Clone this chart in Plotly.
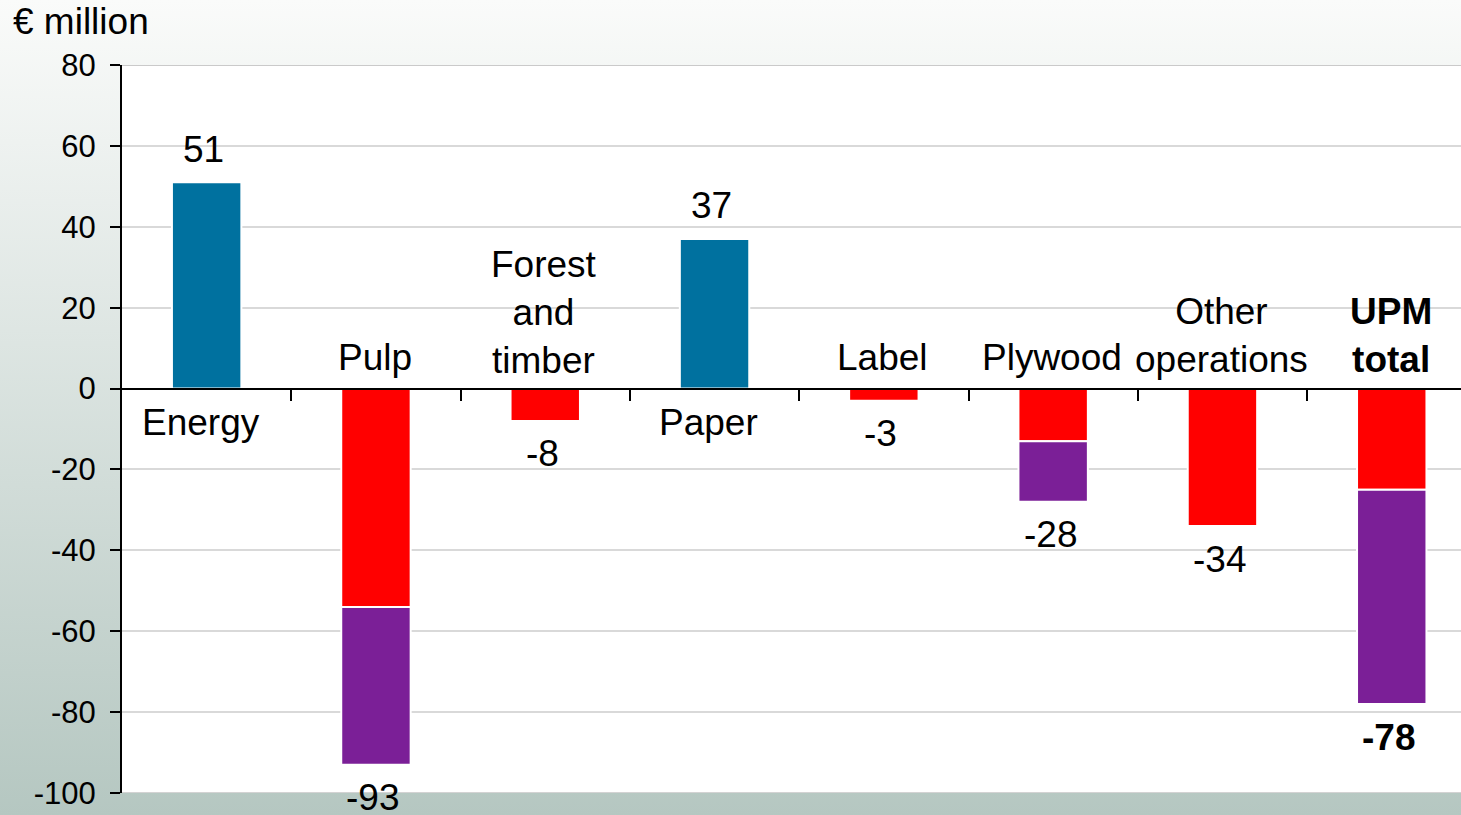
import base64
import plotly.graph_objects as go

# Change in operating result by business area, EUR million
categories = ["Energy", "Pulp", "Forest and timber", "Paper", "Label",
              "Plywood", "Other operations", "UPM total"]
category_labels = ["Energy", "Pulp", "Forest<br>and<br>timber", "Paper", "Label",
                   "Plywood", "Other<br>operations", "<b>UPM<br>total</b>"]
increase = [51, None, None, 37, None, None, None, None]
decrease_first = [None, -54, -8, None, -3, -13, -34, -25]
decrease_second = [None, -39, None, None, None, -15, None, -53]
y_ticks = [-100, -80, -60, -40, -20, 0, 20, 40, 60, 80]
y_tick_labels = ["-100", "-80", "-60", "-40", "-20", "0", "20", "40", "60", "80"]

totals = [sum(v for v in seg if v is not None)
          for seg in zip(increase, decrease_first, decrease_second)]

W, H = 1461, 815
M_L, M_R, M_T, M_B = 122, 0, 65, 22
PLOT_W = W - M_L - M_R
PLOT_H = H - M_T - M_B
CAT_PX = 169.3
Y_MIN, Y_MAX = -100, 80

FONT = "Liberation Sans, Arial, sans-serif"
BLUE, RED, PURPLE = "#00719f", "#ff0000", "#7b1f97"

x = list(range(len(categories)))
bar_style = dict(width=0.41, marker_line_color="white", marker_line_width=2,
                 showlegend=False, hoverinfo="skip")

fig = go.Figure()
fig.add_trace(go.Bar(x=x, y=increase, marker_color=BLUE, **bar_style))
fig.add_trace(go.Bar(x=x, y=decrease_first, marker_color=RED, **bar_style))
fig.add_trace(go.Bar(x=x, y=decrease_second, marker_color=PURPLE, **bar_style))

annotations = []
for i, (lab, tot) in enumerate(zip(category_labels, totals)):
    bold = lab.startswith("<b>")
    val_txt = f"<b>{tot}</b>" if bold else f"{tot}"
    # value label just beyond the bar end
    annotations.append(dict(
        x=i, y=tot, xref="x", yref="y", text=val_txt, showarrow=False,
        yanchor="middle", yshift=33 if tot > 0 else -33, xshift=-3,
        font=dict(family=FONT, size=37, color="black")))
    # category name on the opposite side of the zero line
    n_lines = lab.count("<br>") + 1
    if tot > 0:
        shift = -34.4
    else:
        shift = 30.6 + (n_lines - 1) * 22.5
    annotations.append(dict(
        x=i, y=0, xref="x", yref="y", text=lab, showarrow=False,
        yanchor="middle", yshift=shift, xshift=-1 if tot < 0 else -6,
        font=dict(family=FONT, size=37, color="black")))

annotations.append(dict(
    x=(11 - M_L) / PLOT_W, y=(PLOT_H + M_T - 22) / PLOT_H, xref="paper", yref="paper",
    text="€ million", showarrow=False, xanchor="left", yanchor="middle",
    font=dict(family=FONT, size=37, color="black")))

# soft vertical gradient for the page background
svg = (f'<svg xmlns="http://www.w3.org/2000/svg" width="{W}" height="{H}" '
       f'preserveAspectRatio="none" viewBox="0 0 {W} {H}">'
       '<defs><linearGradient id="g" x1="0" y1="0" x2="0" y2="1">'
       '<stop offset="0" stop-color="#fafbfa"/>'
       '<stop offset="1" stop-color="#b5c7c1"/>'
       '</linearGradient></defs>'
       f'<rect x="0" y="0" width="{W}" height="{H}" fill="url(#g)"/></svg>')
bg_src = "data:image/svg+xml;base64," + base64.b64encode(svg.encode()).decode()

fig.update_layout(
    width=W, height=H,
    margin=dict(l=M_L, r=M_R, t=M_T, b=M_B, pad=0),
    barmode="relative",
    paper_bgcolor="white",
    plot_bgcolor="rgba(0,0,0,0)",
    annotations=annotations,
    images=[dict(source=bg_src, xref="paper", yref="paper",
                 x=-M_L / PLOT_W, y=1 + M_T / PLOT_H,
                 sizex=W / PLOT_W, sizey=H / PLOT_H,
                 xanchor="left", yanchor="top", sizing="stretch",
                 layer="below")],
    shapes=[
        dict(type="rect", xref="paper", yref="paper", x0=0, x1=1, y0=0, y1=1,
             fillcolor="white", line_width=0, layer="below"),
        dict(type="line", xref="paper", yref="y", x0=0, x1=1, y0=Y_MAX, y1=Y_MAX,
             line=dict(color="#b8b8b8", width=1.5)),
        dict(type="line", xref="paper", yref="y", x0=0, x1=1, y0=Y_MIN, y1=Y_MIN,
             line=dict(color="#c4c4c4", width=1.5)),
    ],
    xaxis=dict(
        type="linear",
        range=[-0.5, -0.5 + PLOT_W / CAT_PX],
        anchor="free", position=(0 - Y_MIN) / (Y_MAX - Y_MIN),
        showline=True, linecolor="black", linewidth=2,
        tickmode="array", tickvals=[i + 0.5 for i in range(len(categories) - 1)],
        ticks="outside", ticklen=11, tickwidth=2, tickcolor="black",
        showticklabels=False, showgrid=False, zeroline=False,
    ),
    yaxis=dict(
        range=[Y_MIN, Y_MAX],
        tickmode="array", tickvals=y_ticks, ticktext=y_tick_labels,
        showline=True, linecolor="black", linewidth=2,
        ticks="outside", ticklen=10, tickwidth=2, tickcolor="black",
        ticklabelstandoff=8,
        tickfont=dict(family=FONT, size=31, color="black"),
        showgrid=True, gridcolor="#d9d9d9", gridwidth=1.5,
        zeroline=False,
    ),
)

fig.write_html("out.html")
